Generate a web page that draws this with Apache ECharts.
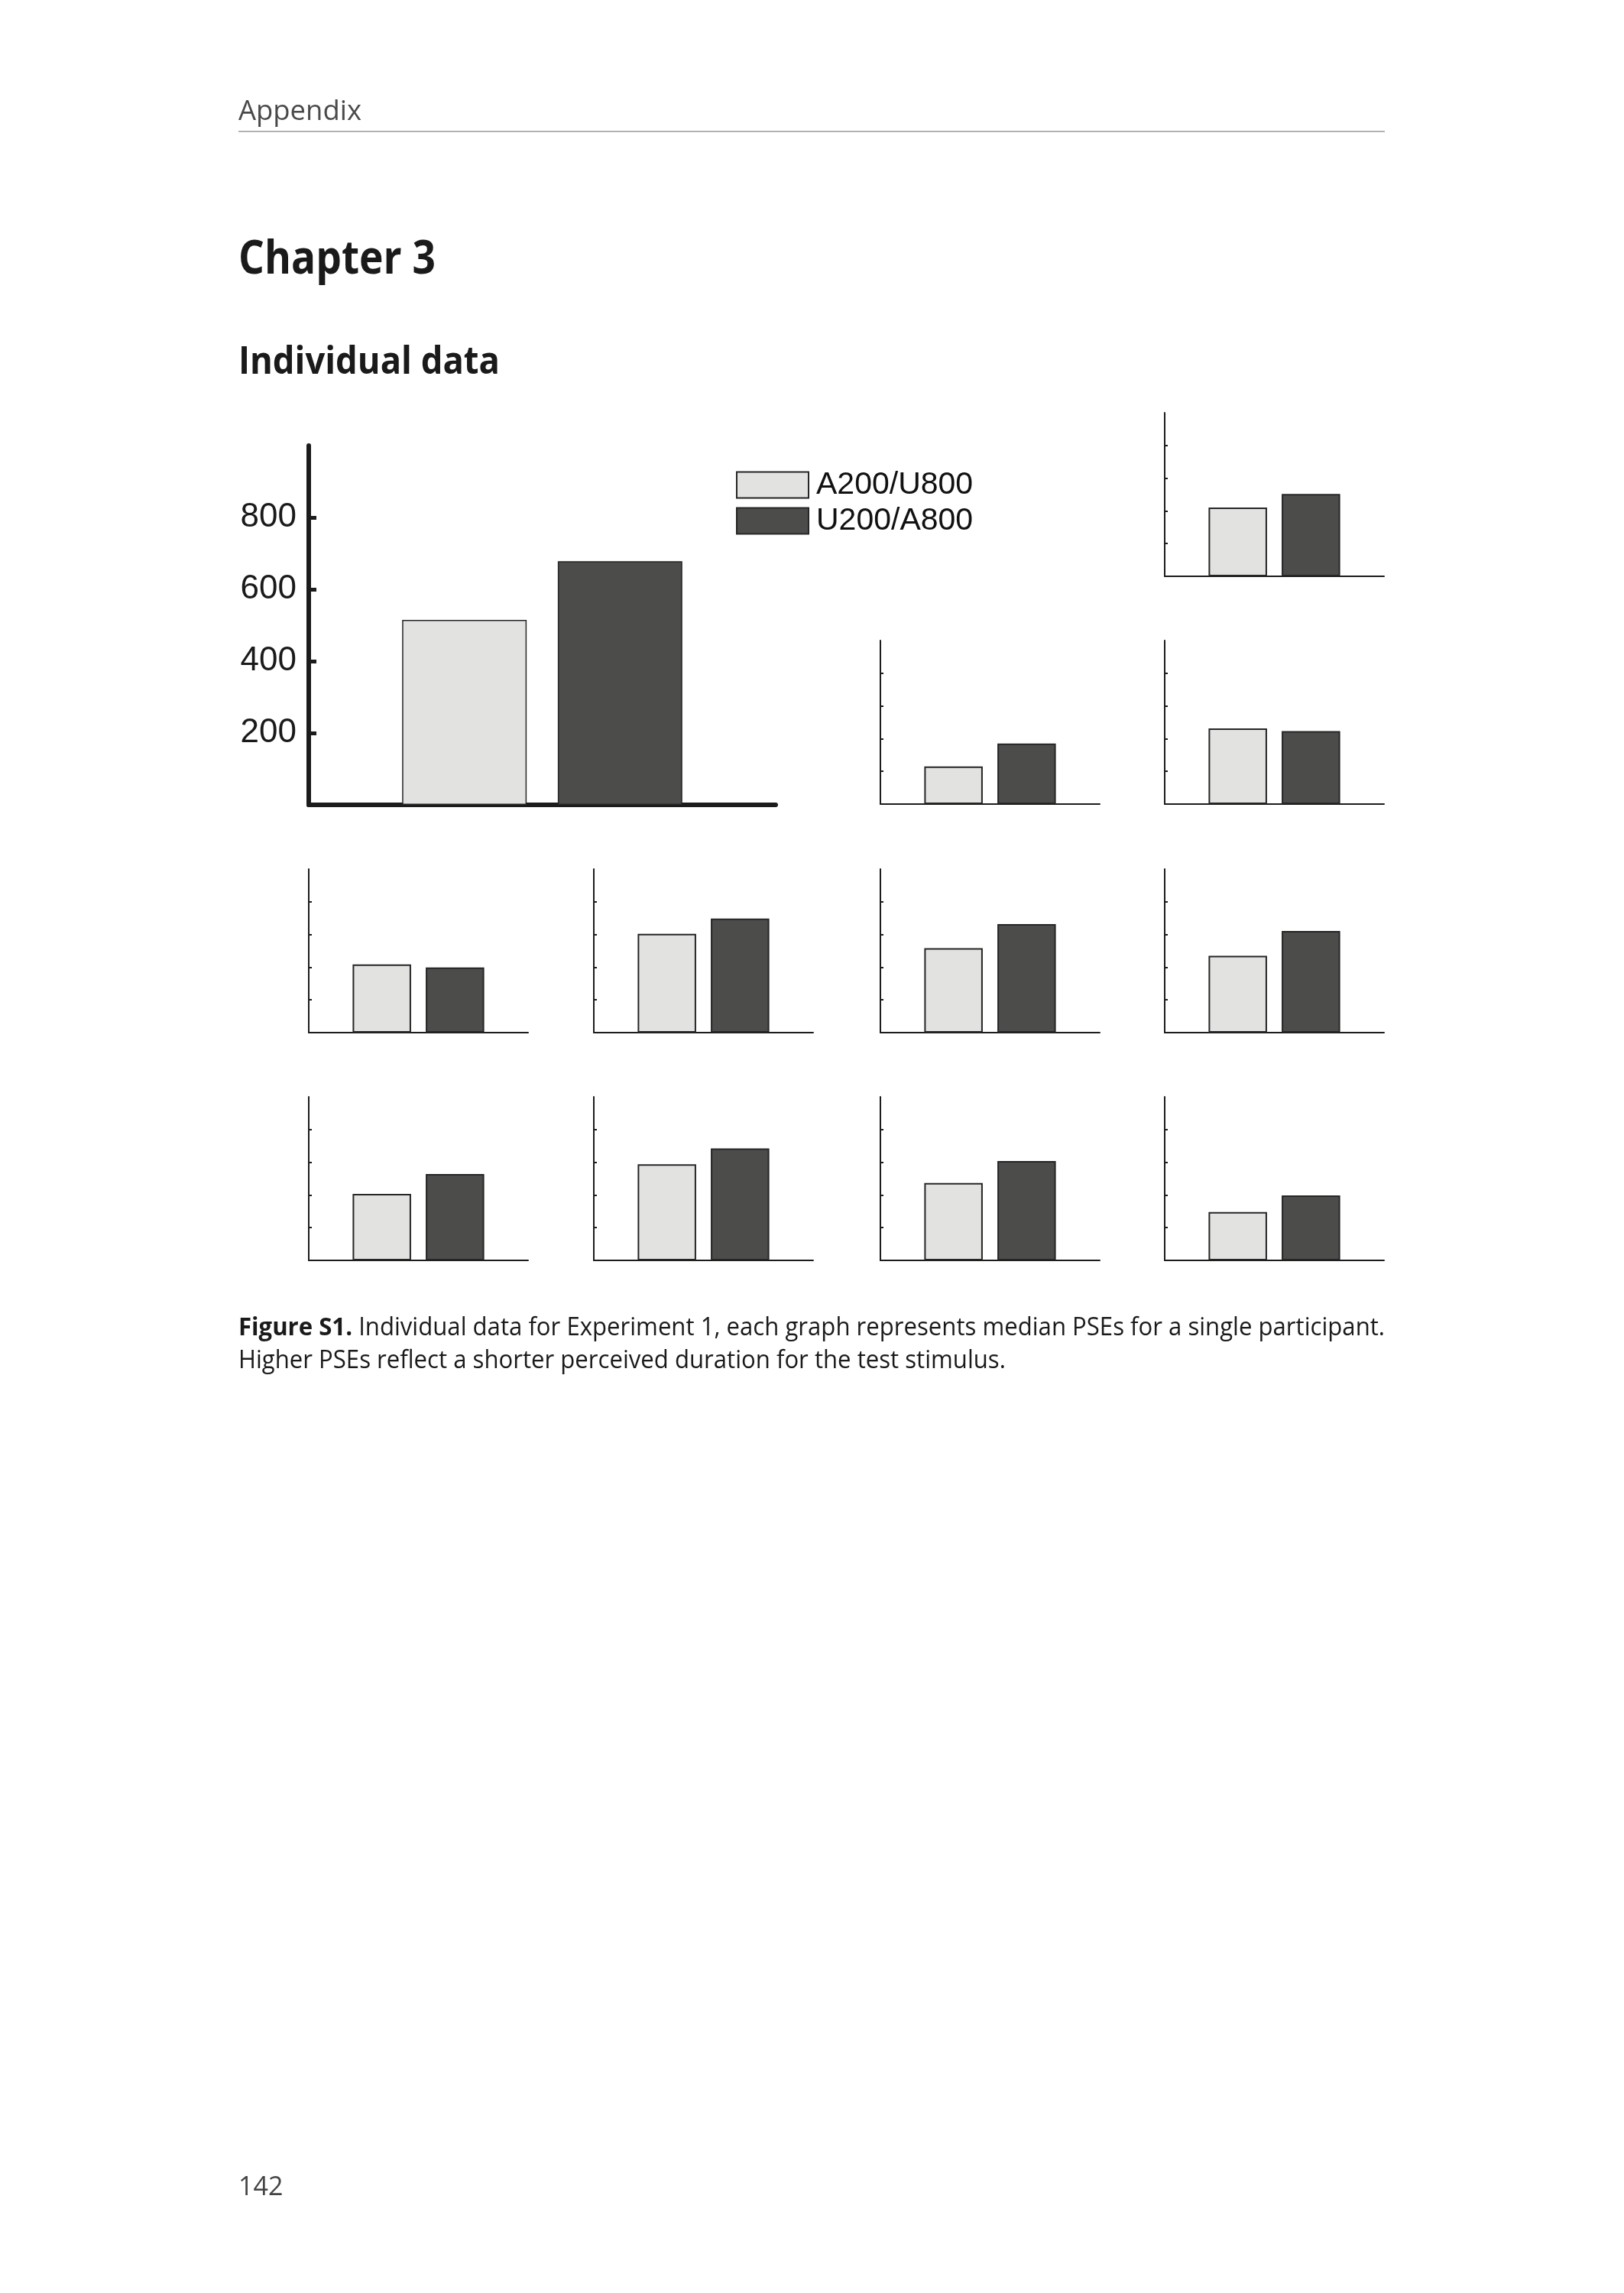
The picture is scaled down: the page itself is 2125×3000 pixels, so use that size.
<!DOCTYPE html>
<html><head><meta charset="utf-8">
<script src="https://cdn.jsdelivr.net/npm/echarts@6/dist/echarts.min.js"></script>
<style>
html,body{margin:0;padding:0;background:#fff;}
#page{position:relative;width:2125px;height:3000px;overflow:hidden;background:#fff;}
#chart{position:absolute;left:0;top:0;width:2125px;height:3000px;}
.t{position:absolute;left:312px;white-space:nowrap;font-family:'Open Sans',sans-serif;transform-origin:0 0;line-height:1;}
</style></head><body>
<div id="page">
<div id="chart"></div>
<div class="t" style="top:126px;font-size:36px;color:#4a4a4a" data-w="161">Appendix</div>
<div style="position:absolute;left:312px;top:171px;width:1500px;height:2px;background:#b3b3b3"></div>
<div class="t" style="top:305px;font-size:60px;font-weight:700;color:#1a1a1a" data-w="258">Chapter 3</div>
<div class="t" style="top:445px;font-size:50px;font-weight:700;color:#1a1a1a" data-w="342">Individual data</div>
<div class="t" id="cap1" style="top:1719px;font-size:32px;color:#1a1a1a" data-w="1500"><b>Figure S1.</b> Individual data for Experiment 1, each graph represents median PSEs for a single participant.</div>
<div class="t" id="cap2" style="top:1762px;font-size:32px;color:#1a1a1a">Higher PSEs reflect a shorter perceived duration for the test stimulus.</div>
<div class="t" style="top:2842px;font-size:34px;color:#444">142</div>
</div>
<script>
// ---- data ----
const categories = ['', 'A200/U800', 'U200/A800', ''];
const seriesNames = ['A200/U800', 'U200/A800'];
const groupPSE = [515, 678];
const pseA200U800 = [420, 230, 463, 417, 604, 516, 470, 406, 588, 473, 296];
const pseU200A800 = [503, 370, 446, 398, 697, 663, 622, 528, 685, 607, 397];
const yTicks = [200, 400, 600, 800];
const yMin = 0, yMax = 1000, yStep = 200;

// ---- layout ----
const bigPanel = {left: 404, top: 583, width: 611, height: 470};
const colLeft = [404, 777, 1152, 1524];
const rowBottom = [754, 1052, 1351, 1649];
const smallW = 287, smallH = 214;
const panelCells = [[0,3],[1,2],[1,3],[2,0],[2,1],[2,2],[2,3],[3,0],[3,1],[3,2],[3,3]];
const fillColors = ['#e2e2e0', '#4c4c4a'];
const edgeColor = '#262626';

const grids = [], xAxes = [], yAxes = [], series = [];

function addPanel(g, vals, big) {
  grids.push(g);
  const idx = grids.length - 1;
  const lw = big ? 6 : 2;
  xAxes.push({
    type: 'category', gridIndex: idx, data: categories, boundaryGap: false,
    axisLine: {show: true, lineStyle: {color: '#1c1c1c', width: lw}},
    axisTick: {show: false}, axisLabel: {show: false}, splitLine: {show: false}
  });
  yAxes.push({
    type: 'value', gridIndex: idx, min: yMin, max: yMax, interval: yStep,
    axisLine: {show: true, lineStyle: {color: '#1c1c1c', width: lw}},
    axisTick: {show: true, inside: true, length: big ? 10 : 4, customValues: yTicks,
      lineStyle: {color: '#1c1c1c', width: big ? 5 : 2}},
    axisLabel: {show: big, customValues: yTicks, margin: 16, fontSize: 44,
      fontFamily: 'Liberation Sans, Arial, sans-serif', color: '#1a1a1a'},
    splitLine: {show: false}
  });
  vals.forEach((v, s) => {
    series.push({
      type: 'bar', name: seriesNames[s], xAxisIndex: idx, yAxisIndex: idx,
      data: categories.map((c, k) => (k === s + 1 ? v : '-')),
      barWidth: '80%', barGap: '-100%',
      itemStyle: {color: fillColors[s], borderColor: edgeColor, borderWidth: big ? 1.5 : 2},
      z: 1
    });
  });
}

addPanel(bigPanel, groupPSE, true);
panelCells.forEach(([r, c], i) => {
  addPanel({left: colLeft[c], top: rowBottom[r] - smallH, width: smallW, height: smallH},
    [pseA200U800[i], pseU200A800[i]], false);
});

const chart = echarts.init(document.getElementById('chart'), null, {renderer: 'canvas'});
chart.setOption({
  animation: false,
  backgroundColor: 'transparent',
  grid: grids,
  xAxis: xAxes,
  yAxis: yAxes,
  legend: {
    data: seriesNames, orient: 'vertical', left: 963, top: 614, padding: 0,
    itemWidth: 94, itemHeight: 34, itemGap: 6, icon: 'rect', selectedMode: false,
    textStyle: {fontSize: 41, lineHeight: 34, fontFamily: 'Liberation Sans, Arial, sans-serif', color: '#111', padding: [0, 0, 0, 5]}
  },
  series: series
});

function fit() {
  document.querySelectorAll('[data-w]').forEach(el => {
    el.style.transform = 'none';
    const w = el.getBoundingClientRect().width;
    el.dataset.s = (+el.dataset.w / w);
    el.style.transform = 'scaleX(' + el.dataset.s + ')';
  });
  const s = document.getElementById('cap1').dataset.s;
  document.getElementById('cap2').style.transform = 'scaleX(' + s + ')';
}
fit();
if (document.fonts && document.fonts.ready) document.fonts.ready.then(fit);
</script>
</body></html>
